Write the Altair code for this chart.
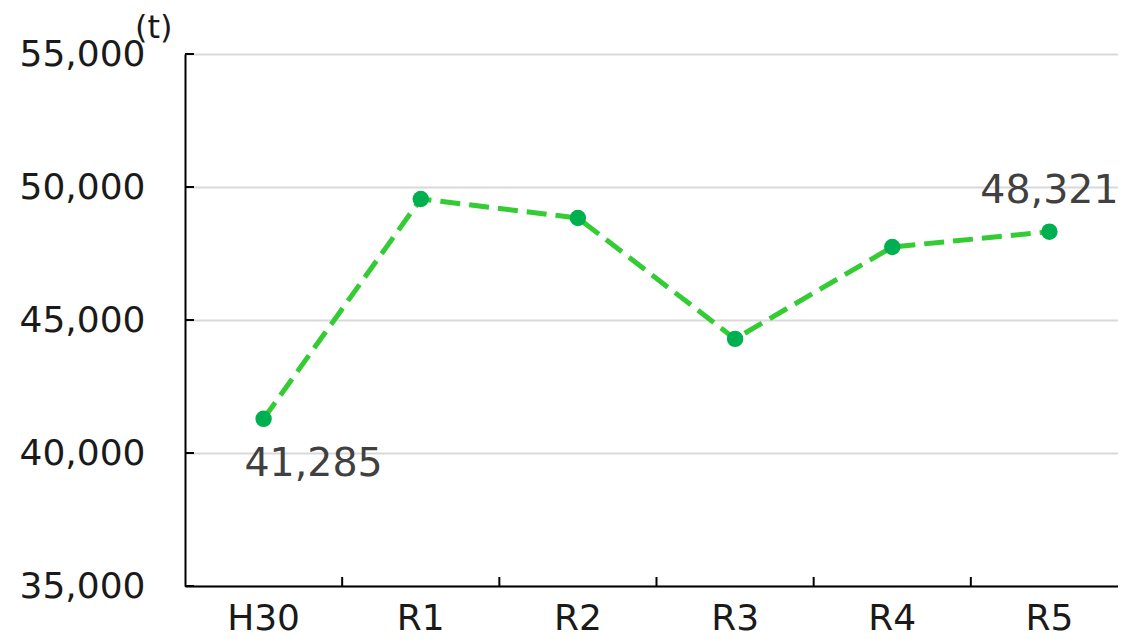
import altair as alt
import pandas as pd

years = ["H30", "R1", "R2", "R3", "R4", "R5"]
values = [41285, 49550, 48835, 44290, 47745, 48321]
label_years = ["H30", "R5"]
label_values = [41285, 48321]
label_texts = ["41,285", "48,321"]
y_ticks = [35000, 40000, 45000, 50000, 55000]
boundary_years = ["R1", "R2", "R3", "R4", "R5"]

W, H = 933, 532
FONT = "DejaVu Sans"

df = pd.DataFrame({"year": years, "value": values})
xscale = alt.Scale(domain=years, paddingInner=0, paddingOuter=0, range=[0, 943])
yscale = alt.Scale(domain=[35000, 55000], nice=False, zero=False)

base = alt.Chart(df)

line = base.mark_line(color="#33cc33", strokeWidth=5, strokeDash=[20, 9]).encode(
    x=alt.X("year:N", scale=xscale, sort=years,
            axis=alt.Axis(title=None, labelAngle=0, ticks=False, grid=False,
                          domainColor="black", domainWidth=2,
                          labelFont=FONT, labelFontSize=36, labelColor="#1a1a1a",
                          labelPadding=15)),
    y=alt.Y("value:Q", scale=yscale,
            axis=alt.Axis(title=None, values=y_ticks, format=",d", ticks=False,
                          gridColor="#d9d9d9", gridWidth=2,
                          domainColor="black", domainWidth=2,
                          labelFont=FONT, labelFontSize=36, labelColor="#1a1a1a",
                          labelPadding=40)),
)

points = base.mark_point(filled=True, size=270, color="#00b050", opacity=1).encode(
    x=alt.X("year:N", scale=xscale, sort=years),
    y=alt.Y("value:Q", scale=yscale),
)

ldf = pd.DataFrame({"year": label_years, "value": label_values, "text": label_texts})
lab1 = alt.Chart(ldf.iloc[[0]]).mark_text(font=FONT, fontSize=39.5, color="#404040",
                                          dx=50, dy=45, baseline="middle").encode(
    x=alt.X("year:N", scale=xscale, sort=years),
    y=alt.Y("value:Q", scale=yscale), text="text:N")
lab2 = alt.Chart(ldf.iloc[[1]]).mark_text(font=FONT, fontSize=39.5, color="#404040",
                                          dx=0, dy=-41, baseline="middle").encode(
    x=alt.X("year:N", scale=xscale, sort=years),
    y=alt.Y("value:Q", scale=yscale), text="text:N")

ytick_df = pd.DataFrame({"value": y_ticks})
yt = alt.Chart(ytick_df).mark_rule(color="black", strokeWidth=2).encode(
    y=alt.Y("value:Q", scale=yscale), x=alt.value(0), x2=alt.value(9))

xtick_df = pd.DataFrame({"year": boundary_years})
xt = alt.Chart(xtick_df).mark_rule(color="black", strokeWidth=2).encode(
    x=alt.X("year:N", scale=xscale, sort=years, bandPosition=0),
    y=alt.value(H - 9), y2=alt.value(H))

unit = alt.Chart(pd.DataFrame({"t": ["(t)"]})).mark_text(
    font=FONT, fontSize=32, color="#1a1a1a", align="left", baseline="middle").encode(
    x=alt.value(-50), y=alt.value(-26), text="t:N")

chart = alt.layer(line, points, yt, xt, lab1, lab2, unit).properties(
    width=W, height=H,
    padding={"left": 177, "top": 46, "right": 0, "bottom": 53},
    autosize=alt.AutoSizeParams(type="none"),
).configure_view(stroke=None).configure(background="white")

chart.save("out.html", embed_options={"renderer": "svg", "actions": False})
